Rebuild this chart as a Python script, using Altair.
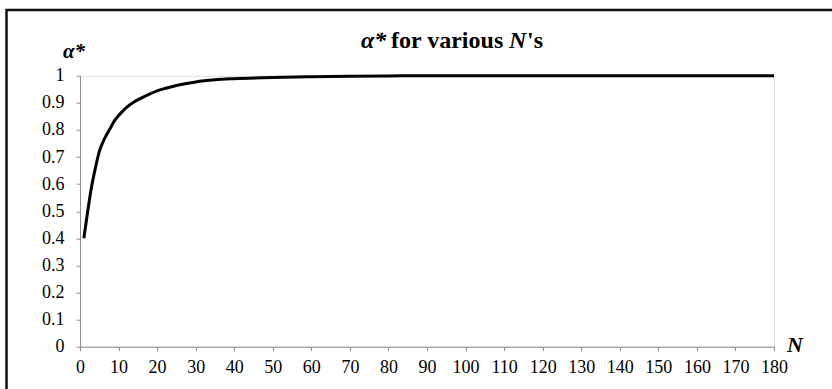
import altair as alt
import pandas as pd

# Data
n_values = [1, 2, 3, 4, 5, 6, 7, 8, 9, 10, 11, 12, 14, 16, 18, 20, 22, 25, 28, 30, 35, 40,
            50, 60, 70, 80, 90, 100, 110, 120, 130, 140, 150, 160, 170, 180]
alpha_values = [0.40, 0.50, 0.59, 0.66, 0.72, 0.757, 0.785, 0.81, 0.835, 0.853, 0.868, 0.882,
                0.903, 0.918, 0.932, 0.944, 0.953, 0.964, 0.972, 0.977, 0.985, 0.989,
                0.993, 0.996, 0.998, 0.999, 1.0, 1.0, 1.0, 1.0, 1.0, 1.0, 1.0, 1.0, 1.0, 1.0]
x_ticks = list(range(0, 181, 10))
y_ticks = [round(i * 0.1, 1) for i in range(11)]

df = pd.DataFrame({"N": n_values, "alpha": alpha_values})
one = pd.DataFrame({"k": [0]})

W, H = 694, 271
FONT = "'Liberation Serif', 'Times New Roman', Times, serif"

x_scale = alt.Scale(domain=[0, 180], nice=False, zero=True)
y_scale = alt.Scale(domain=[0, 1], nice=False)

line = alt.Chart(df).mark_line(color="black", strokeWidth=3, interpolate="monotone").encode(
    x=alt.X("N:Q", scale=x_scale, title=None,
            axis=alt.Axis(values=x_ticks, grid=False, domainColor="#8c8c8c", tickColor="#8c8c8c",
                          tickSize=4, labelFont=FONT, labelFontSize=18, labelColor="black",
                          labelPadding=8, labelFlush=False, labelOverlap=False)),
    y=alt.Y("alpha:Q", scale=y_scale, title=None,
            axis=alt.Axis(values=y_ticks, format=".1~f", grid=False, domainColor="#8c8c8c",
                          tickColor="#8c8c8c", tickSize=4, labelFont=FONT, labelFontSize=18,
                          labelColor="black", labelPadding=12, labelFlush=False,
                          labelOverlap=False)),
)

border = alt.Chart(one).mark_rect(fill=None, stroke="#111", strokeWidth=2.5).encode(
    x=alt.value(-73.5), x2=alt.value(780), y=alt.value(-65.7), y2=alt.value(330)
)

def txt(s, x, y, style="normal", size=24, align="left"):
    return alt.Chart(one).mark_text(text=s, font=FONT, fontSize=size, fontWeight="bold",
                                    fontStyle=style, align=align, baseline="alphabetic",
                                    color="black").encode(x=alt.value(x), y=alt.value(y))

TY = -27.2
title_parts = (
    txt("α*", 281, TY, "italic")
    + txt("for various", 311, TY)
    + txt("N", 429, TY, "italic")
    + txt("'s", 447, TY)
)
y_title = txt("α*", -17, -17.5, "italic", size=21)
x_title = txt("N", 707, 276, "italic", size=22)

chart = alt.layer(border, line, title_parts, y_title, x_title).properties(
    width=W, height=H,
    autosize=alt.AutoSizeParams(type="none"),
    padding={"left": 80, "top": 75.7, "right": 58, "bottom": 42.3},
).configure_view(stroke=None).configure(background="white")

chart.save("out.html", embed_options={"renderer": "svg", "actions": False})
